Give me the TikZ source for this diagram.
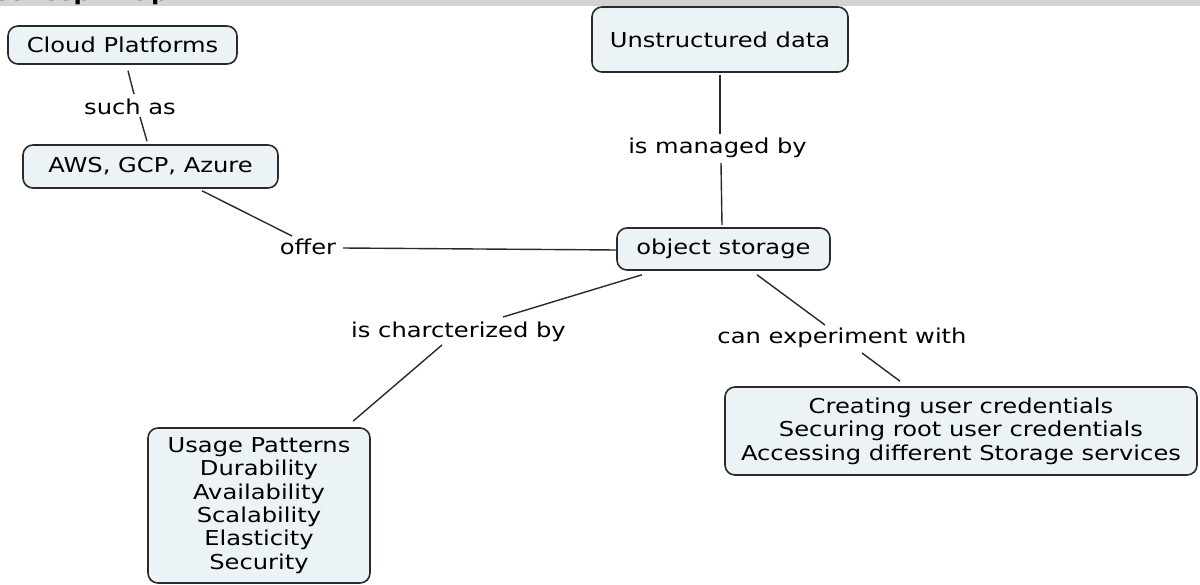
\documentclass[tikz,border=0pt]{standalone}
\usepackage{fontspec}
\setmainfont{DejaVu Sans}[FakeStretch=1.18]
\usepackage{xcolor}
\definecolor{cmapfill}{HTML}{ECF3F6}
\definecolor{cmapline}{HTML}{2A2A2A}
\definecolor{cmapbar}{HTML}{D3D3D3}

\tikzset{
  concept/.style={draw=cmapline,line width=1.6pt,fill=cmapfill,rounded corners=10pt,
    inner sep=0pt,align=center,font=\fontsize{20.5}{23.4}\selectfont},
  linkword/.style={inner sep=0pt,anchor=base,font=\fontsize{20.5}{23.4}\selectfont},
  link/.style={draw=cmapline,line width=1.4pt}
}

\begin{document}
\begin{tikzpicture}[x=1pt,y=-1pt]
  \clip (0,0) rectangle (1200,584);
  \fill[white] (0,0) rectangle (1200,584);
  \fill[cmapbar] (0,0) rectangle (1200,6);
  \node[anchor=base west,inner sep=0pt,font=\bfseries\fontsize{20.5}{23.4}\selectfont] (title) at (-9,0.3) {Concept Map};

  % concepts
  \node[concept,minimum width=229pt,minimum height=38pt] (cloud) at (122.5,45) {Cloud Platforms};
  \node[concept,minimum width=255pt,minimum height=43pt] (aws) at (150.5,166.5) {AWS, GCP, Azure};
  \node[concept,minimum width=256pt,minimum height=65pt] (unstr) at (720,39.5) {Unstructured data};
  \node[concept,minimum width=213pt,minimum height=42pt] (objst) at (723.5,249) {object storage};
  \node[concept,minimum width=472pt,minimum height=88pt] (creds) at (961,431)
    {Creating user credentials\\Securing root user credentials\\Accessing different Storage services};
  \node[concept,minimum width=222pt,minimum height=155pt] (usage) at (259,505.5)
    {Usage Patterns\\Durability\\Availability\\Scalability\\Elasticity\\Security};

  % linking phrases
  \node[linkword] (suchas) at (130,114) {such as};
  \node[linkword] (managed) at (717.5,153) {is managed by};
  \node[linkword] (offer) at (308,254) {offer};
  \node[linkword] (charc) at (458.5,337) {is charcterized by};
  \node[linkword] (canexp) at (842,343) {can experiment with};

  % connectors
  \draw[link] ([shift={(5.5,6)}]cloud.south) -- ([shift={(4,-20)}]suchas.base);
  \draw[link] ([shift={(10,3)}]suchas.base) -- ([shift={(-3.5,-3)}]aws.north);
  \draw[link] ([shift={(51.5,2)}]aws.south) -- ([shift={(-16,-18)}]offer.base);
  \draw[link] ([shift={(35,-6)}]offer.base) -- ([shift={(1,1)}]objst.west);
  \draw[link] ([shift={(0,2)}]unstr.south) -- ([shift={(2.5,-19)}]managed.base);
  \draw[link] ([shift={(3.5,10)}]managed.base) -- ([shift={(-1.5,-2)}]objst.north);
  \draw[link] ([shift={(-81.5,4)}]objst.south) -- ([shift={(44.5,-20)}]charc.base);
  \draw[link] ([shift={(-16.5,8)}]charc.base) -- ([shift={(94,-6)}]usage.north);
  \draw[link] ([shift={(33.5,4)}]objst.south) -- ([shift={(-17,-18)}]canexp.base);
  \draw[link] ([shift={(20,10)}]canexp.base) -- ([shift={(-61,-5)}]creds.north);
\end{tikzpicture}
\end{document}
